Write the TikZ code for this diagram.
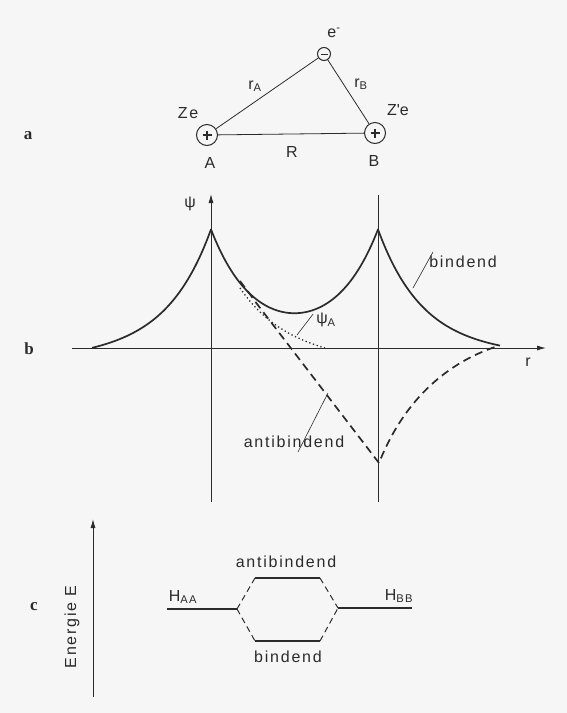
\documentclass[tikz,border=0pt]{standalone}
\usepackage{fontspec}
\setmainfont{Liberation Sans}[LetterSpace=11]
\newfontfamily\panelfont{Liberation Serif}
\usetikzlibrary{arrows.meta}
\definecolor{ink}{HTML}{2B2B2B}
\definecolor{paper}{HTML}{F6F6F6}
\begin{document}
\begin{tikzpicture}[x=1pt,y=-1pt,
  lbl/.style={font=\fontsize{16}{19}\selectfont, inner sep=0pt, text=ink},
  panel/.style={font=\panelfont\bfseries\fontsize{17}{20}\selectfont, inner sep=0pt, text=ink},
  thinline/.style={draw=ink, line width=0.8pt},
  axis/.style={draw=ink, line width=0.9pt},
  arr/.style={-{Latex[length=9pt,width=5pt]}},
  nuc/.style={circle, draw=ink, line width=1pt, minimum size=21pt, inner sep=0pt},
  elec/.style={circle, draw=ink, line width=1pt, minimum size=13pt, inner sep=0pt},
  curve/.style={draw=ink, line width=1.7pt, line join=round},
  dcurve/.style={draw=ink, line width=1.7pt, dash pattern=on 8pt off 5pt, line join=round},
  dotcurve/.style={draw=ink, line width=1.3pt, dash pattern=on 1.3pt off 2.6pt},
  level/.style={draw=ink, line width=1.6pt},
  dlink/.style={draw=ink, line width=1pt, dash pattern=on 6pt off 4pt},
  leader/.style={draw=ink, line width=0.6pt}
]
\useasboundingbox (0,0) rectangle (567,713);
\fill[paper] (0,0) rectangle (567,713);

% ---------------- panel a ----------------
\node[panel] (pa) at (28,136) {a};
\node[elec] (e) at (324,54) {};
\node[nuc] (A) at (207,135) {};
\node[nuc] (B) at (375,133) {};
\draw[ink, line width=1pt] ([xshift=-3.5pt]e.center) -- ([xshift=3.5pt]e.center);
\draw[ink, line width=1.3pt] ([xshift=-4.5pt]A.center) -- ([xshift=4.5pt]A.center)
  ([yshift=-4.5pt]A.center) -- ([yshift=4.5pt]A.center);
\draw[ink, line width=1.3pt] ([xshift=-4.5pt]B.center) -- ([xshift=4.5pt]B.center)
  ([yshift=-4.5pt]B.center) -- ([yshift=4.5pt]B.center);
\draw[thinline] (A) -- (e);
\draw[thinline] (e) -- (B);
\draw[thinline] (A) -- (B);
\node[lbl] (em) at (334,33) {e\textsuperscript{-}};
\node[lbl] (rA) at (255,86) {r\textsubscript{A}};
\node[lbl] (rB) at (361,84) {r\textsubscript{B}};
\node[lbl] (Ze) at (188,113) {Ze};
\node[lbl] (Zpe) at (398,110) {Z\textquotesingle e};
\node[lbl] (Al) at (210,163) {A};
\node[lbl] (Rl) at (292,152) {R};
\node[lbl] (Bl) at (374,161) {B};

% ---------------- panel b ----------------
\node[panel] (pb) at (29,349) {b};
\coordinate (psibot) at (211,502);
\coordinate (psitop) at (211,194);
\coordinate (Bbot) at (378,502);
\coordinate (Btop) at (378,195);
\coordinate (rleft) at (72,348);
\coordinate (rright) at (546,348);
\draw[axis, arr] (psibot) -- (psitop);
\draw[axis] (Bbot) -- (Btop);
\draw[axis, arr] (rleft) -- (rright);
\node[lbl] (psi) at (190,204) {ψ};
\node[lbl] (rl) at (528,362) {r};

% bonding
\draw[curve]
  plot[domain=92:211, samples=60] (\x,{348-116*exp(-(211-\x)/44)-116*exp(-(378-\x)/44)+7.8*(211-\x)/119})
  -- plot[domain=211:378, samples=90] (\x,{348-116*exp(-(\x-211)/44)-116*exp(-(378-\x)/44)})
  -- plot[domain=378:500, samples=60] (\x,{348-116*exp(-(\x-211)/44)-116*exp(-(\x-378)/44)+5*(\x-378)/122});
% antibonding
\coordinate (abs) at (240,281);
\coordinate (abm) at (379,463);
\coordinate (abe) at (498,346);
\draw[dcurve] (abs) .. controls (246,289) and (250,294) .. (254,300) -- (abm)
  .. controls (396,420) and (430,368) .. (abe);
% psi_A
\draw[dotcurve]
  plot[domain=240:325, samples=40] (\x,{348-116*exp(-(\x-211)/44)+8.7*(\x-240)/85});

\node[lbl] (psiA) at (326,320) {ψ\textsubscript{A}};
\coordinate (psiAend) at (297,335);
\draw[leader] ([xshift=-3pt,yshift=6pt]psiA.west) -- (psiAend);
\node[lbl] (bind) at (463,262) {bindend};
\coordinate (bindend) at (413,288);
\draw[leader] ([xshift=-30pt,yshift=10pt]bind.center) -- (bindend);
\node[lbl] (anti) at (294,442) {antibindend};
\coordinate (antiend) at (328,393);
\draw[leader] ([xshift=4pt,yshift=-10pt]anti.center) -- (antiend);

% ---------------- panel c ----------------
\node[panel] (pc) at (34,607) {c};
\coordinate (Ebot) at (93,697);
\coordinate (Etop) at (93,519);
\draw[axis, arr] (Ebot) -- (Etop);
\node[lbl, rotate=90] (Elab) at (72,627) {Energie E};

\coordinate (haa1) at (167,609);
\coordinate (haa2) at (237,609);
\coordinate (ab1) at (255,578);
\coordinate (ab2) at (320,578);
\coordinate (bb1) at (255,641);
\coordinate (bb2) at (320,641);
\coordinate (hbb1) at (338,608);
\coordinate (hbb2) at (412,608);
\draw[level] (haa1) -- (haa2);
\draw[level] (ab1) -- (ab2);
\draw[level] (bb1) -- (bb2);
\draw[thinline, line width=1.2pt] (hbb1) -- (hbb2);
\draw[dlink] (haa2) -- (ab1);
\draw[dlink] (haa2) -- (bb1);
\draw[dlink] (ab2) -- (hbb1);
\draw[dlink] (bb2) -- (hbb1);
\node[lbl] (HAA) at (183,597) {H\textsubscript{AA}};
\node[lbl] (HBB) at (399,596) {H\textsubscript{BB}};
\node[lbl] (antiE) at (286,562) {antibindend};
\node[lbl] (bindE) at (288,657) {bindend};
\end{tikzpicture}
\end{document}
